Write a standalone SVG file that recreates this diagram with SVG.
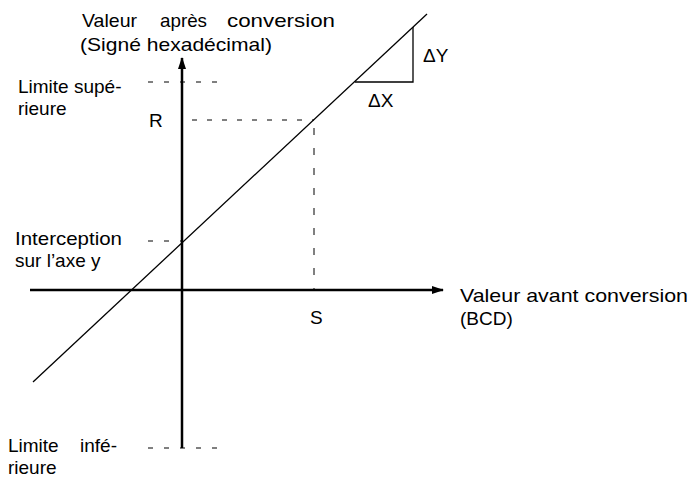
<svg xmlns="http://www.w3.org/2000/svg" width="693" height="478" viewBox="0 0 693 478">
<style>
text{font-family:"Liberation Sans",Arial,sans-serif;font-size:19px;fill:#000}
.ax{stroke:#000;stroke-width:2.5;fill:none}
.ln{stroke:#000;stroke-width:1.3;fill:none}
.dh{stroke:#000;stroke-width:1;fill:none;stroke-dasharray:5 11}
.dv{stroke:#000;stroke-width:1;fill:none;stroke-dasharray:7 13}
</style>
<defs>
<marker id="ah" markerWidth="12" markerHeight="8" refX="11" refY="4" orient="auto" markerUnits="userSpaceOnUse">
<path d="M0,0 L12,4 L0,8 z" fill="#000"/>
</marker>
</defs>
<rect width="693" height="478" fill="#fff"/>
<g id="connectors">
<line class="ax" x1="182" y1="448" x2="182" y2="58" marker-end="url(#ah)"/>
<line class="ax" x1="30" y1="290" x2="443" y2="290" marker-end="url(#ah)"/>
<line class="ln" x1="33" y1="382" x2="427" y2="14"/>
<polyline class="ln" points="355,82 413,82 413,27"/>
<line class="dh" x1="148" y1="82" x2="218" y2="82"/>
<line class="dh" x1="148" y1="448" x2="218" y2="448"/>
<line class="dh" x1="148" y1="241" x2="182" y2="241"/>
<line class="dh" x1="192" y1="120" x2="314" y2="120" style="stroke-dasharray:5 10"/>
<line class="dv" x1="314" y1="128" x2="314" y2="290"/>
</g>
<g id="yaxis-label">
<text x="82" y="27" textLength="55" lengthAdjust="spacingAndGlyphs">Valeur</text>
<text x="160" y="27" textLength="47" lengthAdjust="spacingAndGlyphs">après</text>
<text x="227" y="27" textLength="108" lengthAdjust="spacingAndGlyphs">conversion</text>
<text x="80" y="51" textLength="192" lengthAdjust="spacingAndGlyphs">(Signé hexadécimal)</text>
</g>
<g id="upper-limit">
<text x="18" y="93">Limite supé-</text>
<text x="18" y="115">rieure</text>
</g>
<g id="r-label"><text x="149" y="127">R</text></g>
<g id="dy-label"><text x="423" y="62">ΔY</text></g>
<g id="dx-label"><text x="368" y="107">ΔX</text></g>
<g id="intercept">
<text x="15" y="245" textLength="107" lengthAdjust="spacingAndGlyphs">Interception</text>
<text x="15" y="267">sur l’axe y</text>
</g>
<g id="xaxis-label">
<text x="460" y="302" textLength="228" lengthAdjust="spacingAndGlyphs">Valeur avant conversion</text>
<text x="460" y="325">(BCD)</text>
</g>
<g id="s-label"><text x="310" y="324">S</text></g>
<g id="lower-limit">
<text x="8" y="452">Limite</text>
<text x="80" y="452">infé-</text>
<text x="8" y="474">rieure</text>
</g>
</svg>
